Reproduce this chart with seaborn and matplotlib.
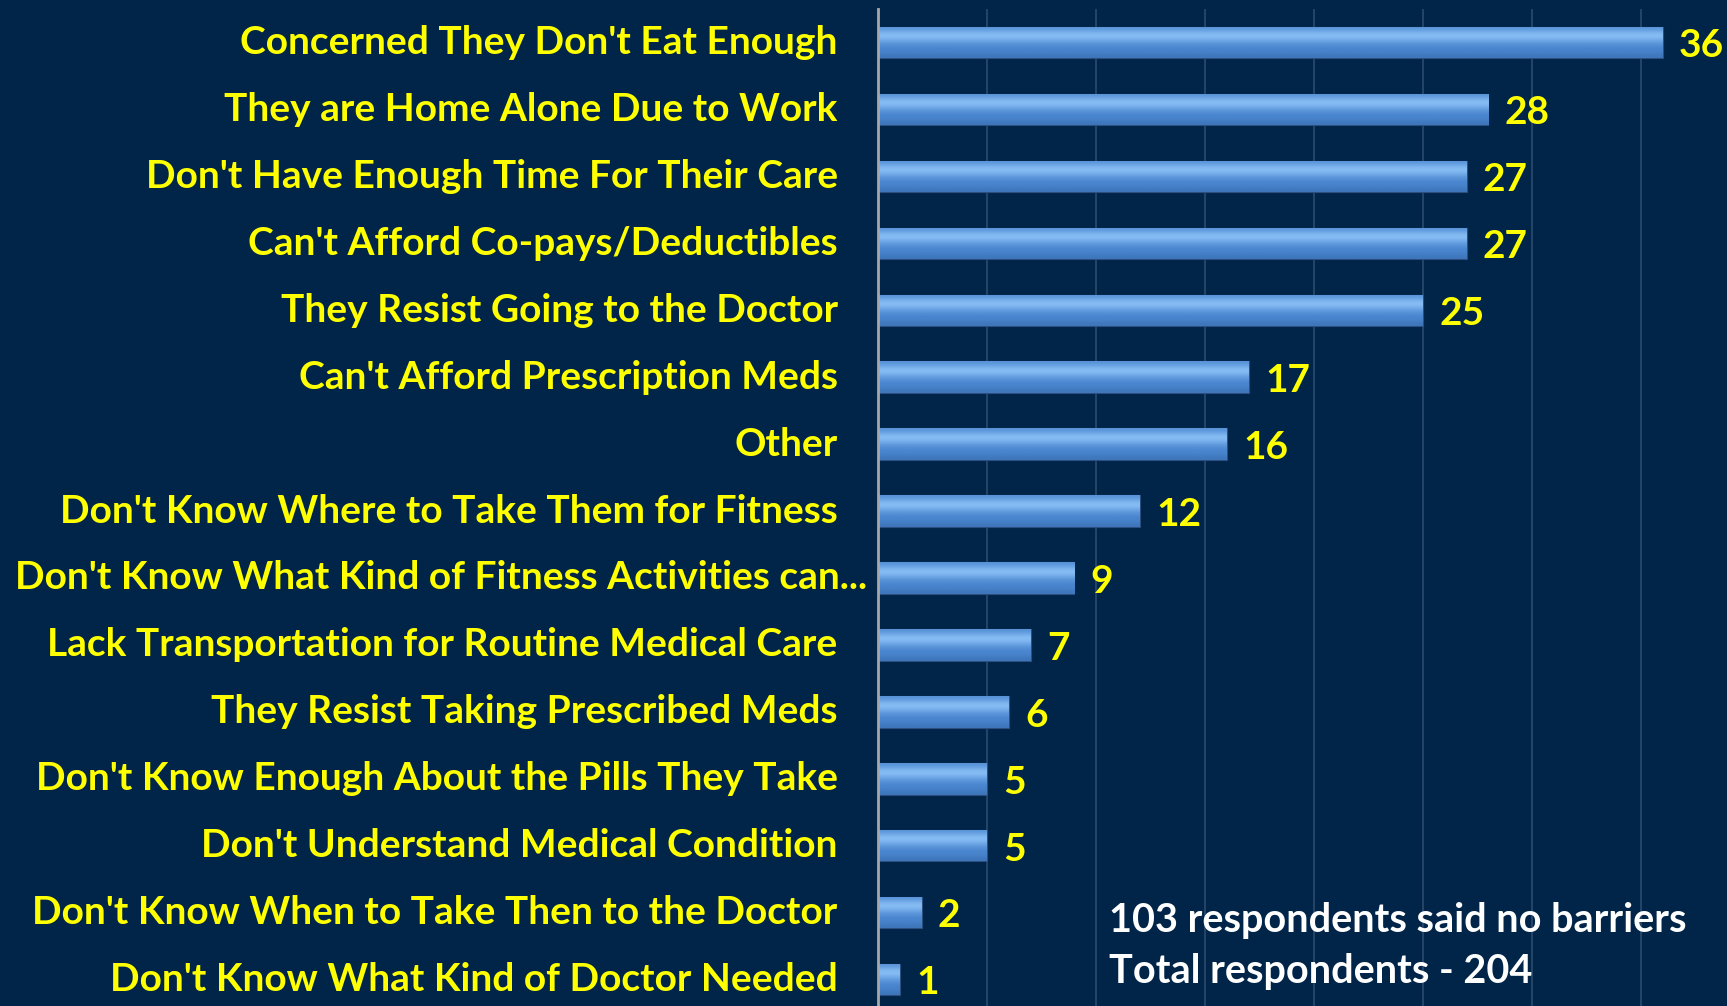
import numpy as np
import pandas as pd
import seaborn as sns
import matplotlib.pyplot as plt
from matplotlib.transforms import ScaledTranslation

# Barriers reported by caregivers
barriers = [
    "Concerned They Don't Eat Enough",
    "They are Home Alone Due to Work",
    "Don't Have Enough Time For Their Care",
    "Can't Afford Co-pays/Deductibles",
    "They Resist Going to the Doctor",
    "Can't Afford Prescription Meds",
    "Other",
    "Don't Know Where to Take Them for Fitness",
    "Don't Know What Kind of Fitness Activities can...",
    "Lack Transportation for Routine Medical Care",
    "They Resist Taking Prescribed Meds",
    "Don't Know Enough About the Pills They Take",
    "Don't Understand Medical Condition",
    "Don't Know When to Take Then to the Doctor",
    "Don't Know What Kind of Doctor Needed",
]
counts = [36, 28, 27, 27, 25, 17, 16, 12, 9, 7, 6, 5, 5, 2, 1]
notes = ["103 respondents said no barriers", "Total respondents - 204"]

bg = "#012549"
yellow = "#FFFF00"

df = pd.DataFrame({"barrier": barriers, "count": counts})

sns.set_style("dark")
plt.rcParams["font.family"] = ["Lato", "DejaVu Sans"]

fig = plt.figure(figsize=(17.27, 10.06), dpi=100, facecolor=bg)
ax = fig.add_axes([0.5084, -0.007, 0.4916, 0.998])
ax.set_facecolor(bg)

sns.barplot(data=df, x="count", y="barrier", orient="h", width=0.47,
            color="#4A86D0", edgecolor="#2C4F80", linewidth=0.8, ax=ax)

# glossy gradient on each bar
grad = np.array([[0.6], [0.85], [1.0], [0.8], [0.6], [0.5], [0.45], [0.3]])
cmap = sns.blend_palette(["#2E5E9A", "#4A86D0", "#8CC2F7"], as_cmap=True)
for p in ax.patches:
    x0, y0 = p.get_x(), p.get_y()
    w, h = p.get_width(), p.get_height()
    im = ax.imshow(grad, cmap=cmap, vmin=0, vmax=1, aspect="auto",
                   extent=[x0, x0 + w, y0 + h, y0], zorder=2,
                   interpolation="bicubic")
    im.set_clip_path(p)

for i, v in enumerate(counts):
    ax.text(v + 0.75, i + 0.05, str(v), color=yellow, fontsize=28,
            fontweight="bold", va="center", ha="left")

ax.set_xlim(0, 38.95)
ax.set_ylim(len(counts) - 0.5, -0.5)
ax.set_xticks(np.arange(0, 40, 5))
ax.set_xticklabels([])
ax.tick_params(axis="x", length=0)
ax.tick_params(axis="y", length=0, pad=29, labelsize=28, labelcolor=yellow)
for lab in ax.get_yticklabels():
    lab.set_fontweight("bold")
    dx = 0.29 if lab.get_text().endswith("...") else 0  # runs past the others
    lab.set_transform(lab.get_transform()
                      + ScaledTranslation(dx, 0.03, fig.dpi_scale_trans))
ax.grid(axis="x", color="#2B4A6E", linewidth=1.2)
ax.grid(axis="y", visible=False)
ax.set_axisbelow(True)
ax.set_xlabel("")
ax.set_ylabel("")
for s in ["top", "right", "bottom"]:
    ax.spines[s].set_visible(False)
ax.spines["left"].set_color("#A8A8A8")
ax.spines["left"].set_linewidth(2)

fig.text(0.642, 0.085, notes[0], color="white", fontsize=28.5,
         fontweight="bold", va="center", ha="left")
fig.text(0.642, 0.034, notes[1], color="white", fontsize=28.5,
         fontweight="bold", va="center", ha="left")

fig.savefig("out.png", dpi=100, facecolor=bg)
